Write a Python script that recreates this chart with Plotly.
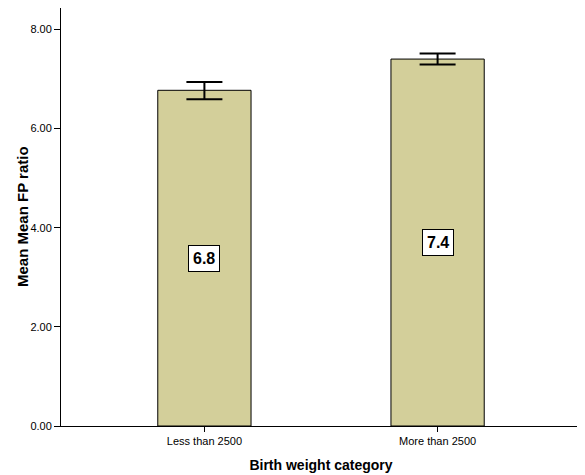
import plotly.graph_objects as go

categories = ["Less than 2500", "More than 2500"]
means = [6.77, 7.40]
err_plus = [0.17, 0.11]
err_minus = [0.18, 0.11]
labels = ["6.8", "7.4"]
y_ticks = [0, 2, 4, 6, 8]
y_tick_text = ["0.00", "2.00", "4.00", "6.00", "8.00"]
x_title = "Birth weight category"
y_title = "Mean Mean FP ratio"

fig = go.Figure()
fig.add_trace(go.Bar(
    x=categories, y=means, width=0.4,
    marker=dict(color="#d3cf9a", line=dict(color="black", width=1)),
    error_y=dict(type="data", symmetric=False, array=err_plus, arrayminus=err_minus,
                 color="black", thickness=2, width=18),
))

for c, m, lab in zip(categories, means, labels):
    fig.add_annotation(x=c, y=m / 2, text="<b>" + lab + "</b>", showarrow=False,
                       font=dict(family="Liberation Sans, Arial, sans-serif", size=16, color="black"),
                       bgcolor="white", bordercolor="black", borderwidth=1, borderpad=4)

# y-axis title placed as a rotated annotation for precise positioning
fig.add_annotation(x=0, y=0.5, xref="paper", yref="paper", xanchor="center", yanchor="middle",
                   xshift=-39, textangle=-90, showarrow=False,
                   text="<b>" + y_title + "</b>",
                   font=dict(family="Liberation Sans, Arial, sans-serif", size=15, color="black"))

# page body has a default 8px margin; size the figure to fit the window
fig.update_layout(
    width=577, height=467,
    margin=dict(l=53, r=4, t=0, b=49, autoexpand=False),
    plot_bgcolor="white", paper_bgcolor="white",
    showlegend=False,
    font=dict(family="Liberation Sans, Arial, sans-serif", color="black"),
    xaxis=dict(range=[-0.615, 1.615], showline=True, linecolor="black", linewidth=1,
               mirror=True, ticks="outside", ticklen=5, tickcolor="black",
               tickfont=dict(size=11), showgrid=False, automargin=False,
               title=dict(text="<b>" + x_title + "</b>", font=dict(size=14), standoff=13)),
    yaxis=dict(range=[0, 8.43], tickvals=y_ticks, ticktext=y_tick_text,
               showline=True, linecolor="black", linewidth=1, mirror=True,
               ticks="outside", ticklen=6, tickcolor="black", tickfont=dict(size=11),
               showgrid=False, zeroline=False, automargin=False),
)

fig.write_html("out.html")
